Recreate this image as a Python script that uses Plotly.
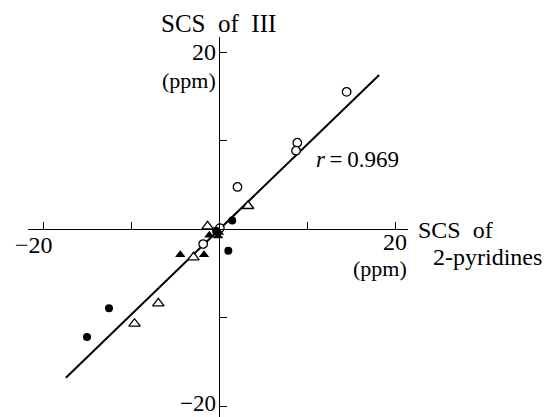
import plotly.graph_objects as go

# ---- data ----
open_circle_x = [14.5, 8.9, 8.75, 2.1, 0.1, -1.8]
open_circle_y = [15.5, 9.75, 8.85, 4.75, 0.1, -1.7]

open_tri_x = [3.3, -1.3, -2.9, -6.9, -9.6]
open_tri_y = [2.6, 0.3, -3.2, -8.4, -10.7]

filled_circle_x = [1.5, 1.06, -0.34, -12.5, -15.0]
filled_circle_y = [0.95, -2.45, -0.2, -8.96, -12.2]

filled_tri_x = [-4.4, -1.7, -1.1, 0.0, -0.1]
filled_tri_y = [-2.9, -2.9, -0.7, -0.4, -0.8]

fit_x = [-17.4, 18.2]
fit_y = [-16.8, 17.4]

tick_vals = [-20, -10, 10, 20]
label_vals = [-20, 20]
r_text = "0.969"

# ---- figure ----
OFF = 8                      # the page body adds an 8px margin
W, H = 554 - OFF, 417 - OFF
FONT = "Liberation Serif, Times New Roman, serif"

def PX(p):   # window pixel -> paper x
    return (p - OFF) / W
def PY(p):   # window pixel -> paper y
    return 1 - (p - OFF) / H

fig = go.Figure()
fig.add_trace(go.Scatter(x=fit_x, y=fit_y, mode="lines",
                         line=dict(color="black", width=2), showlegend=False))
fig.add_trace(go.Scatter(x=open_circle_x, y=open_circle_y, mode="markers",
                         marker=dict(symbol="circle", size=8.5, color="white",
                                     line=dict(color="black", width=1.3)),
                         showlegend=False))
fig.add_trace(go.Scatter(x=open_tri_x, y=open_tri_y, mode="markers",
                         marker=dict(symbol="triangle-up", size=10, color="white",
                                     line=dict(color="black", width=1.3)),
                         showlegend=False))
fig.add_trace(go.Scatter(x=filled_circle_x, y=filled_circle_y, mode="markers",
                         marker=dict(symbol="circle", size=8, color="black",
                                     line=dict(width=0)),
                         showlegend=False))
fig.add_trace(go.Scatter(x=filled_tri_x, y=filled_tri_y, mode="markers",
                         marker=dict(symbol="triangle-up", size=9, color="black",
                                     line=dict(width=0)),
                         showlegend=False))

# window-pixel geometry of the axes
x_left_px, x_right_px = 28, 408
y_top_px, y_bot_px = 37, 417
x0_px, y0_px = 219, 229
sx, sy = 8.8, 8.85

xr = [(x_left_px - x0_px) / sx, (x_right_px - x0_px) / sx]
yr = [(y0_px - y_bot_px) / sy, (y0_px - y_top_px) / sy]

fig.update_layout(
    width=W, height=H,
    margin=dict(l=0, r=0, t=0, b=0),
    paper_bgcolor="white", plot_bgcolor="white",
    font=dict(family=FONT, color="black", size=22),
    xaxis=dict(domain=[PX(x_left_px), PX(x_right_px)], range=xr,
               anchor="free", position=PY(y0_px),
               showgrid=False, zeroline=False, showline=True,
               linecolor="black", linewidth=1.3,
               ticks="inside", ticklen=7, tickwidth=1.3, tickcolor="black",
               tickvals=tick_vals, showticklabels=False),
    yaxis=dict(domain=[max(0, PY(y_bot_px)), PY(y_top_px)], range=yr,
               anchor="free", position=PX(x0_px),
               showgrid=False, zeroline=False, showline=True,
               linecolor="black", linewidth=1.3,
               ticks="inside", ticklen=7, tickwidth=1.3, tickcolor="black",
               tickvals=tick_vals, showticklabels=False),
)

NB = "\u00a0"
ann = []
def A(text, x, y, xanchor="center", yanchor="middle", size=22, xref="paper",
      yref="paper", xshift=0, yshift=0):
    ann.append(dict(text=text, x=x, y=y, xref=xref, yref=yref, xanchor=xanchor,
                    yanchor=yanchor, showarrow=False, xshift=xshift, yshift=yshift,
                    borderpad=0,
                    font=dict(family=FONT, size=size, color="black")))

# axis titles
A("SCS" + NB * 2 + "of" + NB * 2 + "III", PX(218), PY(24), size=25)
A("SCS" + NB * 2 + "of", PX(417), PY(230), xanchor="left", size=24)
A("2-pyridines", PX(432), PY(257), xanchor="left", size=24)
A("(ppm)", PX(217), PY(80), xanchor="right", size=22)
A("(ppm)", PX(408), PY(268), xanchor="right", size=22)

# tick labels
for v in label_vals:
    lab = ("\u2212" + str(abs(v))) if v < 0 else str(v)
    if v < 0:
        A(lab, v, PY(245), xref="x", xanchor="right", xshift=11, size=24)
        A(lab, PX(217), v, yref="y", xanchor="right", yshift=3, size=23)
    else:
        A(lab, v, PY(242), xref="x", xanchor="center", size=24)
        A(lab, PX(217), v, yref="y", xanchor="right", size=24)

A("<i>r</i>" + "\u2009=\u2009" + r_text, PX(315), PY(160), xanchor="left", size=23)

fig.update_layout(annotations=ann)
fig.write_html("out.html")
